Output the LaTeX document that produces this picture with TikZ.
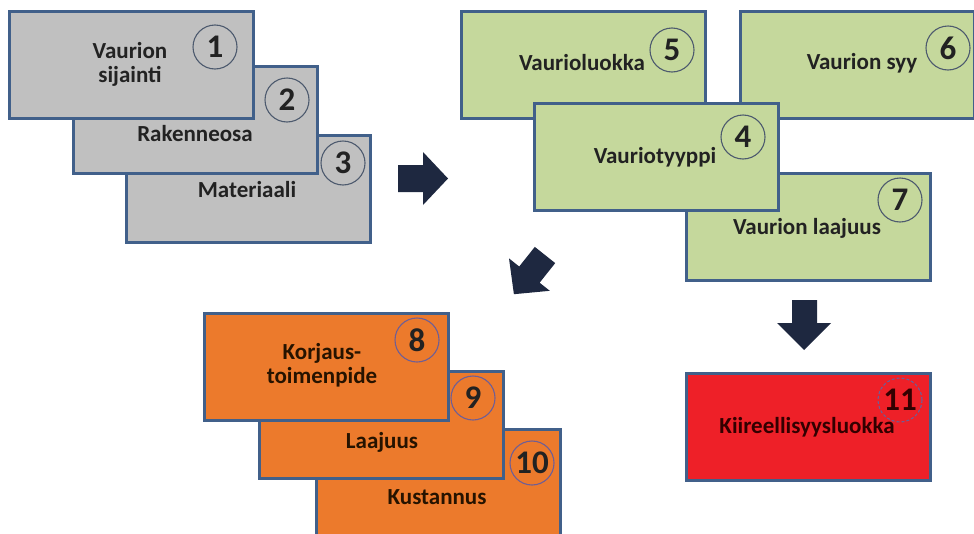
\documentclass[tikz,border=0pt]{standalone}
\usepackage{fontspec}
\setmainfont{Carlito}
\usetikzlibrary{shadows}
\definecolor{bordercol}{HTML}{41608A}
\definecolor{grayfill}{HTML}{C0C0C0}
\definecolor{greenfill}{HTML}{C5D89C}
\definecolor{orangefill}{HTML}{EC7A2C}
\definecolor{redfill}{HTML}{EE2028}
\definecolor{arrowcol}{HTML}{1E2840}
\definecolor{circcol}{HTML}{4D5A6E}
\definecolor{circpurple}{HTML}{6E5E96}
\definecolor{txtcol}{HTML}{222222}
\tikzset{
  box/.style={draw=bordercol, line width=2.8pt, minimum width=244pt, minimum height=107pt,
    inner sep=0pt, anchor=north west,
    drop shadow={shadow xshift=1.5pt, shadow yshift=-1.5pt, opacity=0.35}},
  lbl/.style={font=\fontsize{23}{25}\selectfont\bfseries, text=txtcol, align=center, inner sep=0pt},
  num/.style={circle, draw=circcol, line width=1.1pt, minimum size=44pt, inner sep=0pt,
    font=\fontsize{33}{33}\selectfont\bfseries, text=txtcol},
  blockarrow/.style={fill=arrowcol}
}
\begin{document}
\begin{tikzpicture}[x=1pt,y=-1pt]
\useasboundingbox (0,0) rectangle (974,533);
\fill[white] (0,0) rectangle (974,533);

% gray group
\node[box, fill=grayfill] (b3) at (125,134) {};
\node[box, fill=grayfill] (b2) at (72,65) {};
\node[box, fill=grayfill] (b1) at (8,10) {};
\node[lbl] (t1) at (130,64) {Vaurion\\[-1pt]sijainti};
\node[lbl] (t2) at (195,134) {Rakenneosa};
\node[lbl] (t3) at (247,190) {Materiaali};
\node[num] (n1) at (215,47) {1};
\node[num] (n2) at (287,100) {2};
\node[num] (n3) at (343,163) {3};

% green group
\node[box, fill=greenfill] (b5) at (460,10) {};
\node[box, fill=greenfill, minimum width=234pt] (b6) at (739,10) {};
\node[box, fill=greenfill] (b7) at (685,172) {};
\node[box, fill=greenfill] (b4) at (533,102) {};
\node[lbl] (t5) at (582,63) {Vaurioluokka};
\node[lbl] (t6) at (862,63) {Vaurion syy};
\node[lbl] (t4) at (655,157) {Vauriotyyppi};
\node[lbl] (t7) at (807,228) {Vaurion laajuus};
\node[num] (n5) at (672,50) {5};
\node[num] (n6) at (948,48) {6};
\node[num] (n4) at (743,137) {4};
\node[num] (n7) at (900,200) {7};

% orange group
\node[box, fill=orangefill] (b10) at (315,428) {};
\node[box, fill=orangefill] (b9) at (258,370) {};
\node[box, fill=orangefill] (b8) at (203,312) {};
\node[lbl, text=black!85!orange] (t8) at (322,365) {Korjaus-\\[-1pt]toimenpide};
\node[lbl, text=black!85!orange] (t9) at (382,442) {Laajuus};
\node[lbl, text=black!85!orange] (t10) at (437,497) {Kustannus};
\node[num, draw=circpurple] (n8) at (417,340) {8};
\node[num, draw=circpurple] (n9) at (473,398) {9};
\node[num, draw=circpurple] (n10) at (532,463) {10};

% red box
\node[box, fill=redfill] (b11) at (685,372) {};
\node[lbl, text=black!80!red] (t11) at (807,427) {Kiireellisyysluokka};
\node[num, draw=circpurple, densely dashed, text=black!80!red] (n11) at (900,400) {11};

% block arrows
\fill[blockarrow] (398,165) -- (423,165) -- (423,152) -- (448,178.5) -- (423,205) -- (423,192) -- (398,192) -- cycle;
\fill[blockarrow] (792,300) -- (817,300) -- (817,323) -- (831,323) -- (804,350) -- (777,323) -- (792,323) -- cycle;
\fill[blockarrow] (534.8,246.9) -- (519.2,266.5) -- (509,258.4) -- (513.9,294.2) -- (549.8,290.8) -- (539.6,282.7) -- (555.2,263.1) -- cycle;
\end{tikzpicture}
\end{document}
